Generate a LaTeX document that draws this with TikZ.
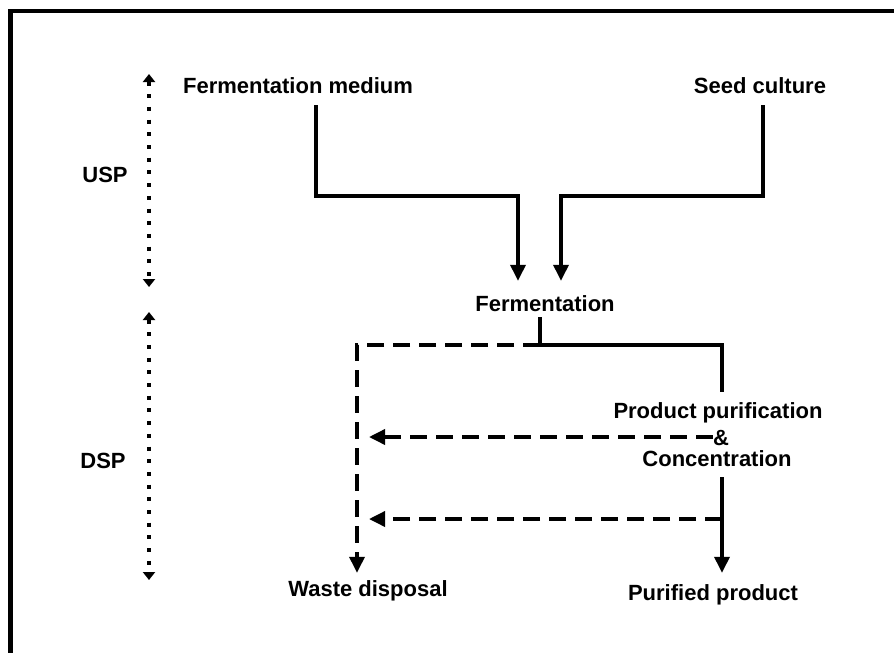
\documentclass[tikz,border=0pt]{standalone}
\usepackage{fontspec}
\setmainfont{Liberation Sans}
\usetikzlibrary{arrows.meta}
\begin{document}
\begin{tikzpicture}[x=1pt,y=-1pt,
  lbl/.style={font=\fontsize{22}{24}\selectfont\bfseries, inner sep=0pt, text height=16pt, text depth=0pt},
  conn/.style={line width=3.5pt},
  tip/.style={-{Triangle[width=15pt,length=16pt]}},
  dsh/.style={dash pattern=on 17pt off 9pt},
  dots/.style={line width=4pt, dash pattern=on 4pt off 8.7pt, {Triangle[width=12pt,length=8pt]}-{Triangle[width=12pt,length=8pt]}}
]
\useasboundingbox (0,0) rectangle (894,653);
% frame
\fill (8,9) rectangle (13,653);
\fill (8,9) rectangle (894,13);

% labels
\node[lbl] (fm) at (298,85) {Fermentation medium};
\node[lbl] (sc) at (760,85) {Seed culture};
\node[lbl] (ferm) at (545,303) {Fermentation};
\node[lbl] (pp) at (718,410) {Product purification};
\node[lbl] (amp) at (721,437) {\&};
\node[lbl] (conc) at (717,458) {Concentration};
\node[lbl] (wd) at (368,588) {Waste disposal};
\node[lbl] (pur) at (713,592) {Purified product};
\node[lbl] (usp) at (105,174) {USP};
\node[lbl] (dsp) at (103,460) {DSP};

% bend points
\coordinate (c1) at (316,196);
\coordinate (c2) at (518,196);
\coordinate (c3) at (763,196);
\coordinate (c4) at (561,196);
\coordinate (j) at (540,345);
\coordinate (wl) at (357,345);
\coordinate (pr) at (722,345);
\coordinate (lb) at (722,519);

% upstream
\draw[conn,tip,shorten <=12pt,shorten >=14pt] (fm.south -| c1) |- (c2) -- (ferm.north -| c2);
\draw[conn,tip,shorten <=12pt,shorten >=14pt] (sc.south -| c3) |- (c4) -- (ferm.north -| c4);

% downstream
\draw[conn,shorten <=6pt,shorten >=10pt] (ferm.south -| j) -- (j) -| (pp.north -| pr);
\draw[conn,dsh,tip,shorten >=7pt] (j) -- (wl) -- (wd.north -| wl);
\draw[conn,dsh,tip,shorten >=12pt] (amp.west) -- (wl |- amp.west);
\draw[conn,tip,shorten <=11pt,shorten >=11pt] (conc.south -| pr) -- (pur.north -| pr);
\draw[conn,dsh,tip,shorten >=12pt] (lb) -- (wl |- lb);

% span markers
\coordinate (ut) at (149,74);
\coordinate (ub) at (149,287);
\coordinate (dt) at (149,312);
\coordinate (db) at (149,580);
\draw[dots] (ut) -- (ub);
\draw[dots] (dt) -- (db);
\end{tikzpicture}
\end{document}
